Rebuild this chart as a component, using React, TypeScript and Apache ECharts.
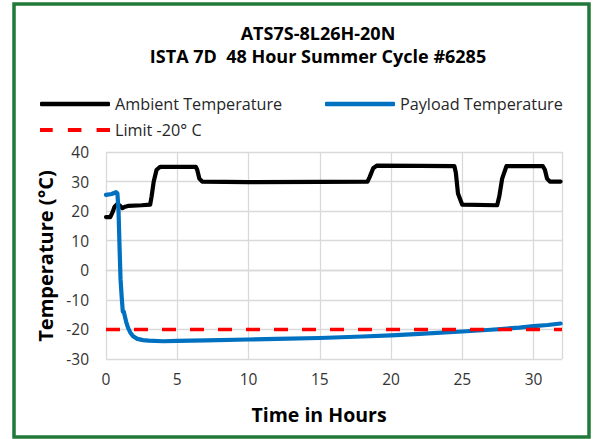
import React, { useEffect, useRef } from "react";
import * as echarts from "echarts";

const titleLines = ["ATS7S-8L26H-20N", "ISTA 7D  48 Hour Summer Cycle #6285"];
const seriesNames = ["Ambient Temperature", "Payload Temperature", "Limit -20° C"];
const xTitle = "Time in Hours";
const yTitle = "Temperature (°C)";

const ambientT = [0, 0.3, 0.45, 0.6, 0.8, 0.95, 1.15, 1.35, 1.6, 2.5, 3.1, 3.2, 3.35, 3.55, 3.8, 5, 6.3, 6.4, 6.55, 6.75, 10, 15, 18.35, 18.5, 18.75, 19.0, 22, 24.45, 24.55, 24.7, 25.0, 27.45, 27.6, 27.8, 28.1, 30.65, 30.8, 30.95, 31.15, 31.9];
const ambientV = [18, 18, 19.5, 21.5, 22.4, 22, 21, 21.5, 21.8, 22, 22.2, 25, 30, 34, 35, 35, 35, 34, 31, 30, 29.8, 29.9, 30, 31.5, 34.5, 35.4, 35.3, 35.2, 33, 26, 22.2, 22, 25, 31, 35.2, 35.2, 34, 31, 30, 30];

const payloadT = [0, 0.4, 0.7, 0.8, 0.88, 0.95, 1.02, 1.1, 1.18, 1.25, 1.32, 1.42, 1.55, 1.7, 1.9, 2.2, 2.6, 3.0, 4, 5, 7, 10, 12, 15, 18, 20, 22, 25, 27, 29, 30, 31, 31.9];
const payloadV = [25.5, 25.8, 26.4, 26, 20, 8, -3, -9, -14, -14, -15.5, -17.5, -19.5, -21, -22.3, -23.2, -23.6, -23.8, -24, -23.9, -23.7, -23.4, -23.2, -22.9, -22.4, -22, -21.5, -20.7, -20.1, -19.4, -18.9, -18.5, -18];

const limitT = [0, 32];
const limitV = [-20, -20];

const xMin = 0, xMax = 32, xStep = 5;
const yMin = -30, yMax = 40, yStep = 10;

const FONT = "'Open Sans'";
const DASH_ICON = "path://M0,0H12.6V4H0Z M27.6,0H41V4H27.6Z M56,0H69.3V4H56Z";

function pairs(t: number[], v: number[]) {
  return t.map((x, i) => [x, v[i]]);
}

export default function App() {
  const ref = useRef<HTMLDivElement>(null);
  useEffect(() => {
    if (!ref.current) return;
    const chart = echarts.init(ref.current, undefined, { renderer: "svg" });
    const legendBase = {
      itemWidth: 70,
      itemHeight: 4.5,
      textStyle: { fontFamily: FONT, fontSize: 16.2, color: "#262626" },
      padding: 0,
    };
    chart.setOption({
      animation: false,
      backgroundColor: "#ffffff",
      grid: { left: 106, right: 32, top: 152, bottom: 80 },
      legend: [
        { ...legendBase, data: [{ name: seriesNames[0], icon: "roundRect" }], left: 40, top: 96 },
        { ...legendBase, data: [{ name: seriesNames[1], icon: "roundRect" }], left: 325, top: 96 },
        { ...legendBase, data: [{ name: seriesNames[2], icon: DASH_ICON }], left: 40, top: 122 },
      ],
      xAxis: {
        type: "value",
        min: xMin,
        max: xMax,
        interval: xStep,
        axisLine: { show: true, lineStyle: { color: "#d9d9d9", width: 1.3 } },
        axisTick: { show: false },
        splitLine: { show: true, lineStyle: { color: "#d9d9d9", width: 1.3 } },
        axisLabel: { fontFamily: FONT, fontSize: 15.5, color: "#333", margin: 12, showMaxLabel: false },
      },
      yAxis: {
        type: "value",
        min: yMin,
        max: yMax,
        interval: yStep,
        axisLine: { show: false },
        axisTick: { show: false },
        splitLine: { show: true, lineStyle: { color: "#d9d9d9", width: 1.3 } },
        axisLabel: { fontFamily: FONT, fontSize: 15.5, color: "#333", margin: 17 },
      },
      series: [
        {
          name: seriesNames[0],
          type: "line",
          data: pairs(ambientT, ambientV),
          symbol: "none",
          lineStyle: { color: "#000000", width: 4.2, cap: "round", join: "round" },
          itemStyle: { color: "#000000" },
          z: 2,
        },
        {
          name: seriesNames[1],
          type: "line",
          data: pairs(payloadT, payloadV),
          symbol: "none",
          lineStyle: { color: "#0070c0", width: 4.2, cap: "round", join: "round" },
          itemStyle: { color: "#0070c0" },
          z: 3,
        },
        {
          name: seriesNames[2],
          type: "line",
          data: pairs(limitT, limitV),
          symbol: "none",
          lineStyle: { color: "#ff0000", width: 3.5, type: [14, 14] },
          itemStyle: { color: "#ff0000" },
          z: 4,
        },
      ],
      graphic: [
        {
          type: "rect",
          shape: { x: 14, y: 4, width: 575, height: 433 },
          style: { fill: "none", stroke: "#217a3a", lineWidth: 3.5 },
          silent: true,
        },
        {
          type: "text",
          x: 318,
          y: 33,
          style: { text: titleLines[0], textAlign: "center", textVerticalAlign: "middle", font: `bold 18px ${FONT}`, fill: "#000" },
        },
        {
          type: "text",
          x: 318,
          y: 55.5,
          style: { text: titleLines[1], textAlign: "center", textVerticalAlign: "middle", font: `bold 18px ${FONT}`, fill: "#000" },
        },
        {
          type: "text",
          x: 319,
          y: 414,
          style: { text: xTitle, textAlign: "center", textVerticalAlign: "middle", font: `bold 19.5px ${FONT}`, fill: "#000" },
        },
        {
          type: "text",
          x: 45,
          y: 256,
          rotation: Math.PI / 2,
          style: { text: yTitle, textAlign: "center", textVerticalAlign: "middle", font: `bold 20px ${FONT}`, fill: "#000" },
        },
      ],
    });
    return () => chart.dispose();
  }, []);
  return <div ref={ref} style={{ position: "fixed", left: 0, top: 0, width: 594, height: 439 }} />;
}
